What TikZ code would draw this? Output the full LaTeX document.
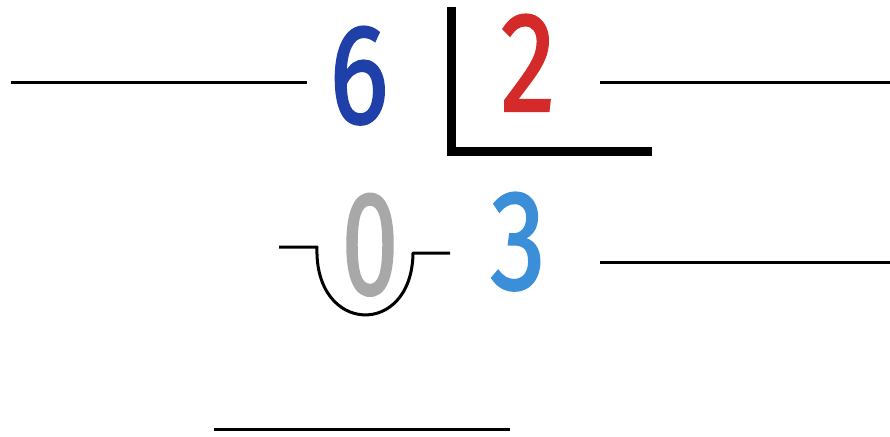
\documentclass[tikz,border=0pt]{standalone}
\usepackage{fontspec}
\setmainfont{Fira Sans}
\newfontfamily\digitfont[FakeBold=1.6]{Fira Sans}
\definecolor{sixblue}{HTML}{1E40A8}
\definecolor{twored}{HTML}{D42A2A}
\definecolor{zerogray}{HTML}{A8A8A8}
\definecolor{threeblue}{HTML}{3A8FD8}
\begin{document}
\begin{tikzpicture}[x=1pt,y=-1pt,
  blank/.style={line width=3pt},
  divbar/.style={line width=9pt},
  digit/.style={anchor=base,inner sep=0pt,font=\digitfont\fontsize{142}{142}\selectfont}]
\useasboundingbox[fill=white] (0,0) rectangle (890,436);
% digits
\node[digit,text=sixblue] (six) at (359,123) {\scalebox{0.78}[1]{6}};
\node[digit,text=twored] (two) at (528,111) {\scalebox{0.78}[1]{2}};
\node[digit,text=zerogray] (zero) at (370,294) {\scalebox{0.72}[1.04]{0}};
\node[digit,text=threeblue] (three) at (518,289) {\scalebox{0.78}[1]{3}};
% blanks
\coordinate (l1a) at (11,82); \coordinate (l1b) at (307,82);
\coordinate (l2a) at (600,82); \coordinate (l2b) at (890,82);
\coordinate (l3a) at (600,262); \coordinate (l3b) at (890,262);
\coordinate (l4a) at (214,429); \coordinate (l4b) at (510,429);
\draw[blank] (l1a) -- (l1b);
\draw[blank] (l2a) -- (l2b);
\draw[blank] (l3a) -- (l3b);
\draw[blank] (l4a) -- (l4b);
% division bracket
\coordinate (dtop) at (451,7);
\coordinate (dcorner) at (451,151);
\coordinate (dend) at (652,151);
\draw[divbar,line join=miter] (dtop) -- (dcorner) -- (dend);
% borrow bracket under zero
\coordinate (ba) at (279,247); \coordinate (bb) at (317,247);
\coordinate (bc) at (413,253); \coordinate (bd) at (450,253);
\draw[blank,line join=round] (ba) -- (bb) .. controls (314,335) and (412,338) .. (bc) -- (bd);
\end{tikzpicture}
\end{document}
